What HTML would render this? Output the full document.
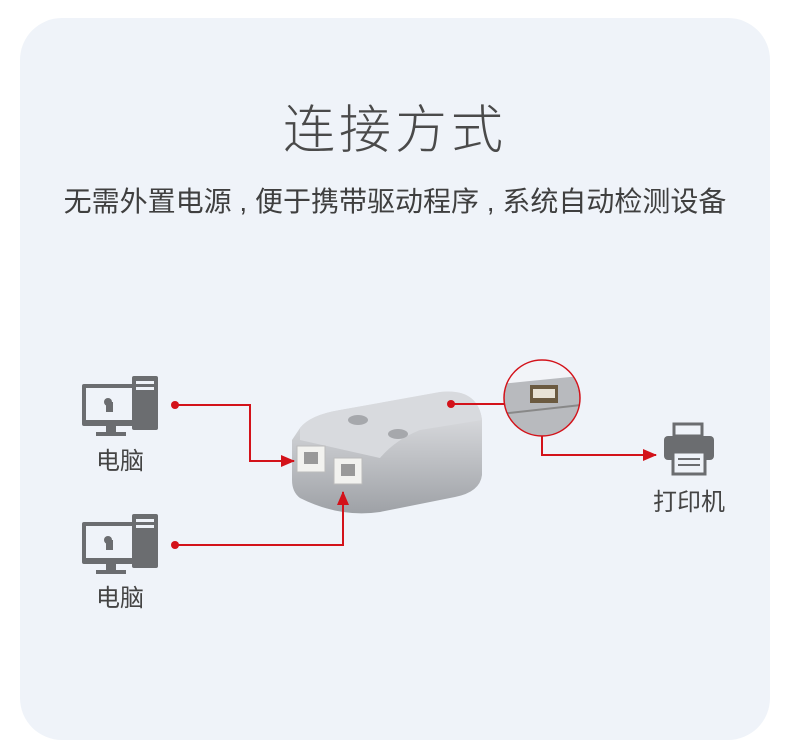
<!DOCTYPE html>
<html><head><meta charset="utf-8"><style>
html,body{margin:0;padding:0;background:#fff;}
body{width:790px;height:751px;position:relative;overflow:hidden;font-family:"Liberation Sans","Noto Sans CJK SC",sans-serif;}
.bg{position:absolute;left:20px;top:18px;width:750px;height:722px;border-radius:42px;background:#eff3f9;}
.t{position:absolute;color:#444;white-space:nowrap;}
</style></head><body>
<div class="bg"></div>
<div class="t" style="left:0;width:790px;text-align:center;top:88px;font-size:52px;font-weight:300;letter-spacing:4px;color:#4a4a4a">连接方式</div>
<div class="t" style="left:0;width:790px;text-align:center;top:180px;font-size:28px;color:#3f3f3f">无需外置电源 , 便于携带驱动程序 , 系统自动检测设备</div>
<svg width="790" height="751" style="position:absolute;left:0;top:0">
<defs>
<linearGradient id="g" x1="0" y1="0" x2="0" y2="1"><stop offset="0" stop-color="#e6e7ea"/><stop offset="1" stop-color="#9ea1a6"/></linearGradient>
<marker id="b" markerWidth="14" markerHeight="12" refX="13" refY="6" orient="auto" markerUnits="userSpaceOnUse"><path d="M0,0 L14,6 L0,12z" fill="#d3121a"/></marker>
<clipPath id="c"><circle cx="542" cy="398" r="38"/></clipPath>
</defs>
<g fill="#6b6d70">
<g transform="translate(82,376)">
<rect x="0" y="8" width="58" height="42" rx="2"/><rect x="4" y="12" width="50" height="32" fill="#eff3f9"/>
<rect x="24" y="50" width="10" height="6"/><rect x="14" y="56" width="30" height="4"/>
<rect x="50" y="0" width="26" height="54" rx="2"/><rect x="54" y="5" width="18" height="3" fill="#eff3f9"/><rect x="54" y="11" width="18" height="3" fill="#eff3f9"/>
<circle cx="26" cy="26" r="4"/><rect x="24" y="26" width="7" height="10"/>
</g>
<g transform="translate(82,514)">
<rect x="0" y="8" width="58" height="42" rx="2"/><rect x="4" y="12" width="50" height="32" fill="#eff3f9"/>
<rect x="24" y="50" width="10" height="6"/><rect x="14" y="56" width="30" height="4"/>
<rect x="50" y="0" width="26" height="54" rx="2"/><rect x="54" y="5" width="18" height="3" fill="#eff3f9"/><rect x="54" y="11" width="18" height="3" fill="#eff3f9"/>
<circle cx="26" cy="26" r="4"/><rect x="24" y="26" width="7" height="10"/>
</g>
<g transform="translate(664,424)">
<rect x="10" y="0" width="28" height="12" fill="none" stroke="#6b6d70" stroke-width="3"/>
<rect x="0" y="12" width="50" height="24" rx="4"/>
<rect x="9" y="28" width="32" height="22" fill="#eff3f9" stroke="#6b6d70" stroke-width="3"/>
<rect x="14" y="34" width="22" height="2"/><rect x="14" y="40" width="22" height="2"/>
</g>
</g>
<g>
<path d="M300,428 Q310,415 340,410 L440,392 Q478,388 482,420 L482,475 Q480,492 455,497 L380,512 Q340,518 300,498 Q292,492 292,480 L292,440 Z" fill="url(#g)"/>
<path d="M300,428 Q310,415 340,410 L440,392 Q478,388 482,420 L420,430 Q395,440 380,458 L300,440 Z" fill="#d8dade"/>
<rect x="297" y="446" width="28" height="26" fill="#f2f2ef" stroke="#bbb"/>
<rect x="334" y="458" width="28" height="26" fill="#f2f2ef" stroke="#bbb"/>
<rect x="304" y="452" width="14" height="12" fill="#999"/>
<rect x="341" y="464" width="14" height="12" fill="#999"/>
<ellipse cx="358" cy="420" rx="10" ry="5" fill="#a6a8ac"/>
<ellipse cx="398" cy="434" rx="10" ry="5" fill="#a6a8ac"/>
</g>
<g clip-path="url(#c)">
<rect x="500" y="355" width="90" height="90" fill="#f2f4f8"/>
<path d="M500,384 L590,375 L590,440 L500,440 Z" fill="#b8babe"/>
<path d="M500,414 L590,404" stroke="#888" stroke-width="2"/>
<rect x="530" y="385" width="28" height="18" fill="#6b5a40"/>
<rect x="533" y="389" width="22" height="9" fill="#e8e2d5"/>
</g>
<circle cx="542" cy="398" r="38" fill="none" stroke="#d3121a" stroke-width="1.5"/>
<g stroke="#d3121a" stroke-width="2" fill="none">
<path d="M175,405 H250 V461 H294" marker-end="url(#b)"/>
<path d="M175,545 H343 V492" marker-end="url(#b)"/>
<path d="M451,404 H504"/>
<path d="M542,436 V455 H656" marker-end="url(#b)"/>
</g>
<g fill="#d3121a"><circle cx="175" cy="405" r="4"/><circle cx="175" cy="545" r="4"/><circle cx="451" cy="404" r="4"/></g>
</svg>
<div class="t" style="left:96px;top:441px;font-size:24px">电脑</div>
<div class="t" style="left:96px;top:578px;font-size:24px">电脑</div>
<div class="t" style="left:653px;top:482px;font-size:24px">打印机</div>
</body></html>
